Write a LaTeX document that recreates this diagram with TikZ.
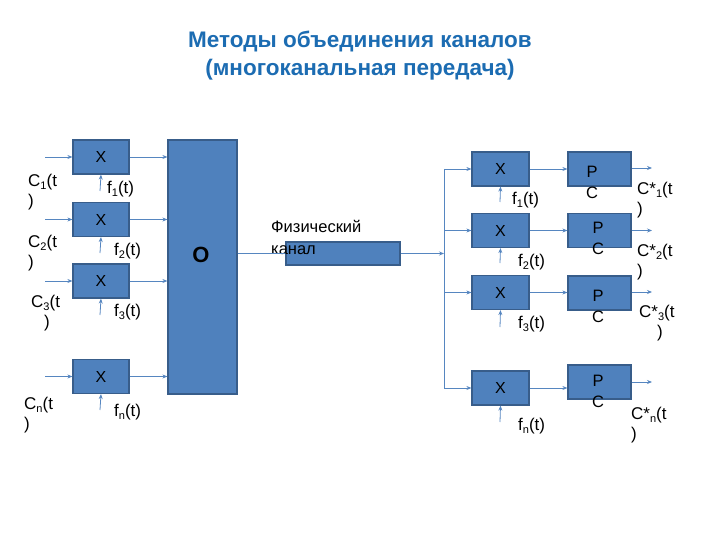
\documentclass[tikz,border=0pt]{standalone}
\usepackage{fontspec}
\setmainfont{Liberation Sans}
\usetikzlibrary{arrows.meta}
\definecolor{boxfill}{RGB}{79,129,189}
\definecolor{boxedge}{RGB}{56,93,138}
\definecolor{linec}{RGB}{86,134,192}
\definecolor{titlec}{RGB}{28,108,178}
\newcommand\sbs[1]{\raisebox{-3.5pt}{\fontsize{11}{11}\selectfont #1}}
\tikzset{
  blk/.style={draw=boxedge, line width=1.2pt, fill=boxfill, inner sep=0pt, font=\fontsize{16}{19}\selectfont},
  xbox/.style={blk, minimum width=56pt, minimum height=34pt},
  pcbox/.style={blk, minimum width=63pt, minimum height=34pt},
  arr/.style={draw=linec, line width=0.8pt, -{Stealth[length=5pt,width=4pt]}},
  ln/.style={draw=linec, line width=0.8pt},
  lab/.style={inner sep=0pt, align=left, font=\fontsize{17}{20}\selectfont},
}
\begin{document}
\begin{tikzpicture}[x=1pt,y=-1pt]
\useasboundingbox (0,0) rectangle (720,540);
% title
\node[inner sep=0pt, align=center, text=titlec, font=\bfseries\fontsize{22.5}{28}\selectfont] (title) at (360,56)
  {Методы объединения каналов\\(многоканальная передача)};
% left X boxes
\node[xbox] (x1) at (101,157) {X};
\node[xbox] (x2) at (101,219.5) {X};
\node[xbox] (x3) at (101,281) {X};
\node[xbox] (x4) at (101,376.5) {X};
% O box
\node[blk, minimum width=69pt, minimum height=254pt] (o) at (202.5,267) {};
\node[inner sep=0pt, font=\bfseries\fontsize{22}{24}\selectfont] (ol) at (201,255) {O};
% channel
\node[blk, minimum width=114pt, minimum height=23pt] (ch) at (343,253.5) {};
\node[lab, anchor=north west, font=\fontsize{16.5}{22}\selectfont] (chl) at (271,220) {Физический\\канал};
% input coordinates
\coordinate (i1) at (45,157);
\coordinate (i2) at (45,219.5);
\coordinate (i3) at (45,281);
\coordinate (i4) at (45,376.5);
\foreach \k in {1,2,3,4} {
  \draw[arr] (i\k) -- (x\k.west);
  \draw[arr] (x\k.east) -- (x\k.east -| o.west);
}
% frequency inputs left
\coordinate (fl1) at (100,191);
\coordinate (fl2) at (100,253);
\coordinate (fl3) at (100,315);
\coordinate (fl4) at (100,410);
\foreach \k in {1,2,3,4} { \draw[arr] (fl\k) -- (x\k.south); }
% left labels
\node[lab, anchor=west] (c1) at (28,192) {C\sbs{1}(t\\)};
\node[lab, anchor=west] (c2) at (28,253) {C\sbs{2}(t\\)};
\node[lab, anchor=west] (c3) at (31,313) {C\sbs{3}(t\\\hspace*{13pt})};
\node[lab, anchor=west] (c4) at (24,415) {C\sbs{n}(t\\)};
\node[lab, anchor=west] (f1) at (107,189) {f\sbs{1}(t)};
\node[lab, anchor=west] (f2) at (114,251) {f\sbs{2}(t)};
\node[lab, anchor=west] (f3) at (114,312) {f\sbs{3}(t)};
\node[lab, anchor=west] (f4) at (114,412) {f\sbs{n}(t)};
% O to channel
\draw[ln] (ch.west -| o.east) -- (ch.west);
% bus
\coordinate (bus) at (444,253.5);
\coordinate (bt) at (444,169);
\coordinate (bb) at (444,388);
\draw[arr] (ch.east) -- (bus);
\draw[ln] (bt) -- (bb);
% right X boxes
\node[xbox, minimum width=57pt] (r1) at (500.5,169) {X};
\node[xbox, minimum width=57pt] (r2) at (500.5,230.5) {X};
\node[xbox, minimum width=57pt] (r3) at (500.5,292.5) {X};
\node[xbox, minimum width=57pt] (r4) at (500.5,388) {X};
% PC boxes
\node[pcbox] (p1) at (599.5,169) {};
\node[pcbox] (p2) at (599.5,230.5) {};
\node[pcbox] (p3) at (599.5,293) {};
\node[pcbox] (p4) at (599.5,382) {};
\node[lab, align=center, font=\fontsize{16.5}{21}\selectfont] (pt1) at (592,182.5) {P\\C};
\node[lab, align=center, font=\fontsize{16.5}{21}\selectfont] (pt2) at (598,238.5) {P\\C};
\node[lab, align=center, font=\fontsize{16.5}{21}\selectfont] (pt3) at (598,306) {P\\C};
\node[lab, align=center, font=\fontsize{16.5}{21}\selectfont] (pt4) at (598,391.5) {P\\C};
\foreach \k in {1,2,3,4} {
  \draw[arr] (bus |- r\k.west) -- (r\k.west);
  \draw[arr] (r\k.east) -- (r\k.east -| p\k.west);
}
% outputs
\coordinate (o1) at (652,168);
\coordinate (o2) at (652,230.5);
\coordinate (o3) at (652,292);
\coordinate (o4) at (652,382);
\foreach \k in {1,2,3,4} { \draw[arr] (o\k -| p\k.east) -- (o\k); }
% right freq inputs
\coordinate (fr1) at (500,202);
\coordinate (fr2) at (500,263);
\coordinate (fr3) at (500,327);
\coordinate (fr4) at (500,422);
\foreach \k in {1,2,3,4} { \draw[arr] (fr\k) -- (r\k.south); }
\node[lab, anchor=west] (g1) at (512,200) {f\sbs{1}(t)};
\node[lab, anchor=west] (g2) at (518,262) {f\sbs{2}(t)};
\node[lab, anchor=west] (g3) at (518,324) {f\sbs{3}(t)};
\node[lab, anchor=west] (g4) at (518,426) {f\sbs{n}(t)};
% right output labels
\node[lab, anchor=west] (d1) at (637,200) {C*\sbs{1}(t\\)};
\node[lab, anchor=west] (d2) at (637,262) {C*\sbs{2}(t\\)};
\node[lab, anchor=west] (d3) at (639,323) {C*\sbs{3}(t\\\hspace*{18pt})};
\node[lab, anchor=west] (d4) at (631,425) {C*\sbs{n}(t\\)};
\end{tikzpicture}
\end{document}
